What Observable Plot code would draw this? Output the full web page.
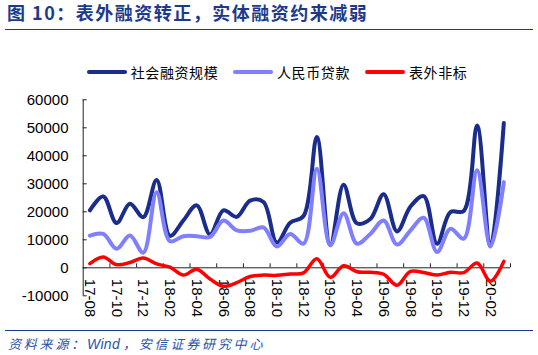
<!DOCTYPE html>
<html>
<head>
<meta charset="utf-8">
<script src="https://cdn.jsdelivr.net/npm/d3@7"></script>
<script src="https://cdn.jsdelivr.net/npm/@observablehq/plot@0.6"></script>
<style>
  html, body { margin: 0; padding: 0; background: #fff; }
  #wrap { position: relative; width: 538px; height: 355px; overflow: hidden; background: #fff; }
  #header { position: relative; width: 538px; height: 85px; }
  #title { position: absolute; left: 7px; top: 3px; height: 18px; line-height: 18px; font-family: "Noto Sans CJK SC", sans-serif; font-weight: bold; font-size: 18px; letter-spacing: 1.5px; color: #1C3A8C; white-space: nowrap; }
  #titleLine { position: absolute; left: 5px; top: 28.5px; width: 528px; height: 0; border-top: 1.5px solid #1C3A8C; }
  .leg { position: absolute; top: 63px; height: 18px; display: flex; align-items: center; font-family: "Noto Sans CJK SC", sans-serif; font-size: 14px; letter-spacing: 0.6px; color: #000; white-space: nowrap; }
  .sw { width: 40px; height: 4px; border-radius: 2px; margin-right: 4px; }
  #chart { position: relative; width: 538px; height: 240px; }
  #footer { position: relative; width: 538px; height: 30px; }
  #footLine { position: absolute; left: 5px; top: 5px; width: 528px; height: 0; border-top: 1px solid #1C3A8C; }
  #foot { position: absolute; left: 8px; top: 11px; height: 16px; line-height: 16px; font-family: "Noto Sans CJK SC", sans-serif; font-style: italic; font-size: 13px; letter-spacing: 2.8px; color: #2A52A8; white-space: nowrap; }
  #foot .lat { font-family: "Liberation Sans", Arial, sans-serif; font-size: 14px; letter-spacing: 0.3px; margin-right: 3px; }
</style>
</head>
<body>
<div id="wrap">
  <div id="header">
    <div id="title">图 10：表外融资转正，实体融资约来减弱</div>
    <div id="titleLine"></div>
    <div id="legend"></div>
  </div>
  <div id="chart"></div>
  <div id="footer">
    <div id="footLine"></div>
    <div id="foot">资料来源：<span class="lat">Wind</span>，安信证券研究中心</div>
  </div>
</div>
<script>
// ---- data ----
const months = ["17-08","17-09","17-10","17-11","17-12","18-01","18-02","18-03","18-04","18-05","18-06","18-07",
                "18-08","18-09","18-10","18-11","18-12","19-01","19-02","19-03","19-04","19-05","19-06","19-07",
                "19-08","19-09","19-10","19-11","19-12","20-01","20-02","20-03"];
const tickLabels = ["17-08","17-10","17-12","18-02","18-04","18-06","18-08","18-10","18-12","19-02","19-04","19-06",
                    "19-08","19-10","19-12","20-02"];
const tsf   = [20500,25500,16000,22900,18100,31400,11400,16900,22300,11900,20500,18200,
               24000,23500,9000,16100,18500,46700,8100,29700,15900,17400,26300,13000,
               21800,25600,8600,19900,20300,50800,7700,51700];
const loans = [11500,12100,6800,11500,5400,27000,9500,11300,11300,11000,16900,13400,
               13200,14400,7600,12100,8600,35400,8000,19500,8600,12100,16900,8300,
               13300,17900,5600,13900,10400,34800,7600,30600];
const offbs = [1500,3900,1100,1900,3500,1400,200,-2600,-500,-4000,-6600,-5300,
               -3100,-2600,-2700,-2200,-1800,3200,-3400,700,-1400,-1600,-2300,-6200,
               -1300,-1700,-2600,-1600,-1700,1700,-4800,2300];
const yTicks = [-10000,0,10000,20000,30000,40000,50000,60000];
const seriesNames = ["社会融资规模","人民币贷款","表外非标"];
const seriesColors = ["#1A2C8C","#7F7FFF","#FF0000"];

// ---- table built from the arrays ----
const rows = months.map((m, i) => ({i, m, tsf: tsf[i], loans: loans[i], offbs: offbs[i]}));
const labelRows = tickLabels.map(t => ({t, i: months.indexOf(t)}));
const boundaries = months.map((m, i) => i).filter(i => i % 2 === 1).map(i => i + 0.5);

// ---- legend ----
const legendLeft = [86.7, 233, 365];
const legend = document.getElementById("legend");
seriesNames.forEach((name, k) => {
  const item = document.createElement("div");
  item.className = "leg";
  item.style.left = legendLeft[k] + "px";
  const sw = document.createElement("div");
  sw.className = "sw";
  sw.style.background = seriesColors[k];
  const tx = document.createElement("span");
  tx.textContent = name;
  item.appendChild(sw);
  item.appendChild(tx);
  legend.appendChild(item);
});

// ---- chart ----
const axisColor = "#222";
const chart = Plot.plot({
  width: 538,
  height: 240,
  marginLeft: 82.7,
  marginRight: 28,
  marginTop: 14.3,
  marginBottom: 29.7,
  style: {fontFamily: "'Liberation Sans', Arial, sans-serif", fontSize: "15px", background: "white", color: "#000", overflow: "visible"},
  x: {type: "linear", domain: [-0.5, 31.5], axis: null},
  y: {domain: [-10000, 60000], ticks: yTicks, tickSize: 0, tickPadding: 14.7, tickFormat: d => String(d), label: null},
  marks: [
    Plot.ruleY([0], {stroke: axisColor, strokeWidth: 1}),
    Plot.ruleX([-0.5], {stroke: axisColor, strokeWidth: 1}),
    Plot.ruleY(yTicks, {x1: -0.5, x2: -0.5, insetRight: -4, stroke: axisColor, strokeWidth: 1}),
    Plot.ruleX(boundaries, {y1: 0, y2: 0, insetBottom: 4, stroke: axisColor, strokeWidth: 1}),
    Plot.text(labelRows, {x: "i", y: 0, text: "t", rotate: 90, textAnchor: "start", dy: 11, fontSize: 15, fill: "#000"}),
    Plot.line(rows, {x: "i", y: "tsf", stroke: seriesColors[0], strokeWidth: 4, curve: "catmull-rom", strokeLinecap: "round", strokeLinejoin: "round"}),
    Plot.line(rows, {x: "i", y: "loans", stroke: seriesColors[1], strokeWidth: 4, curve: "catmull-rom", strokeLinecap: "round", strokeLinejoin: "round"}),
    Plot.line(rows, {x: "i", y: "offbs", stroke: seriesColors[2], strokeWidth: 3.5, curve: "catmull-rom", strokeLinecap: "round", strokeLinejoin: "round"})
  ]
});
document.getElementById("chart").appendChild(chart);
</script>
</body>
</html>
